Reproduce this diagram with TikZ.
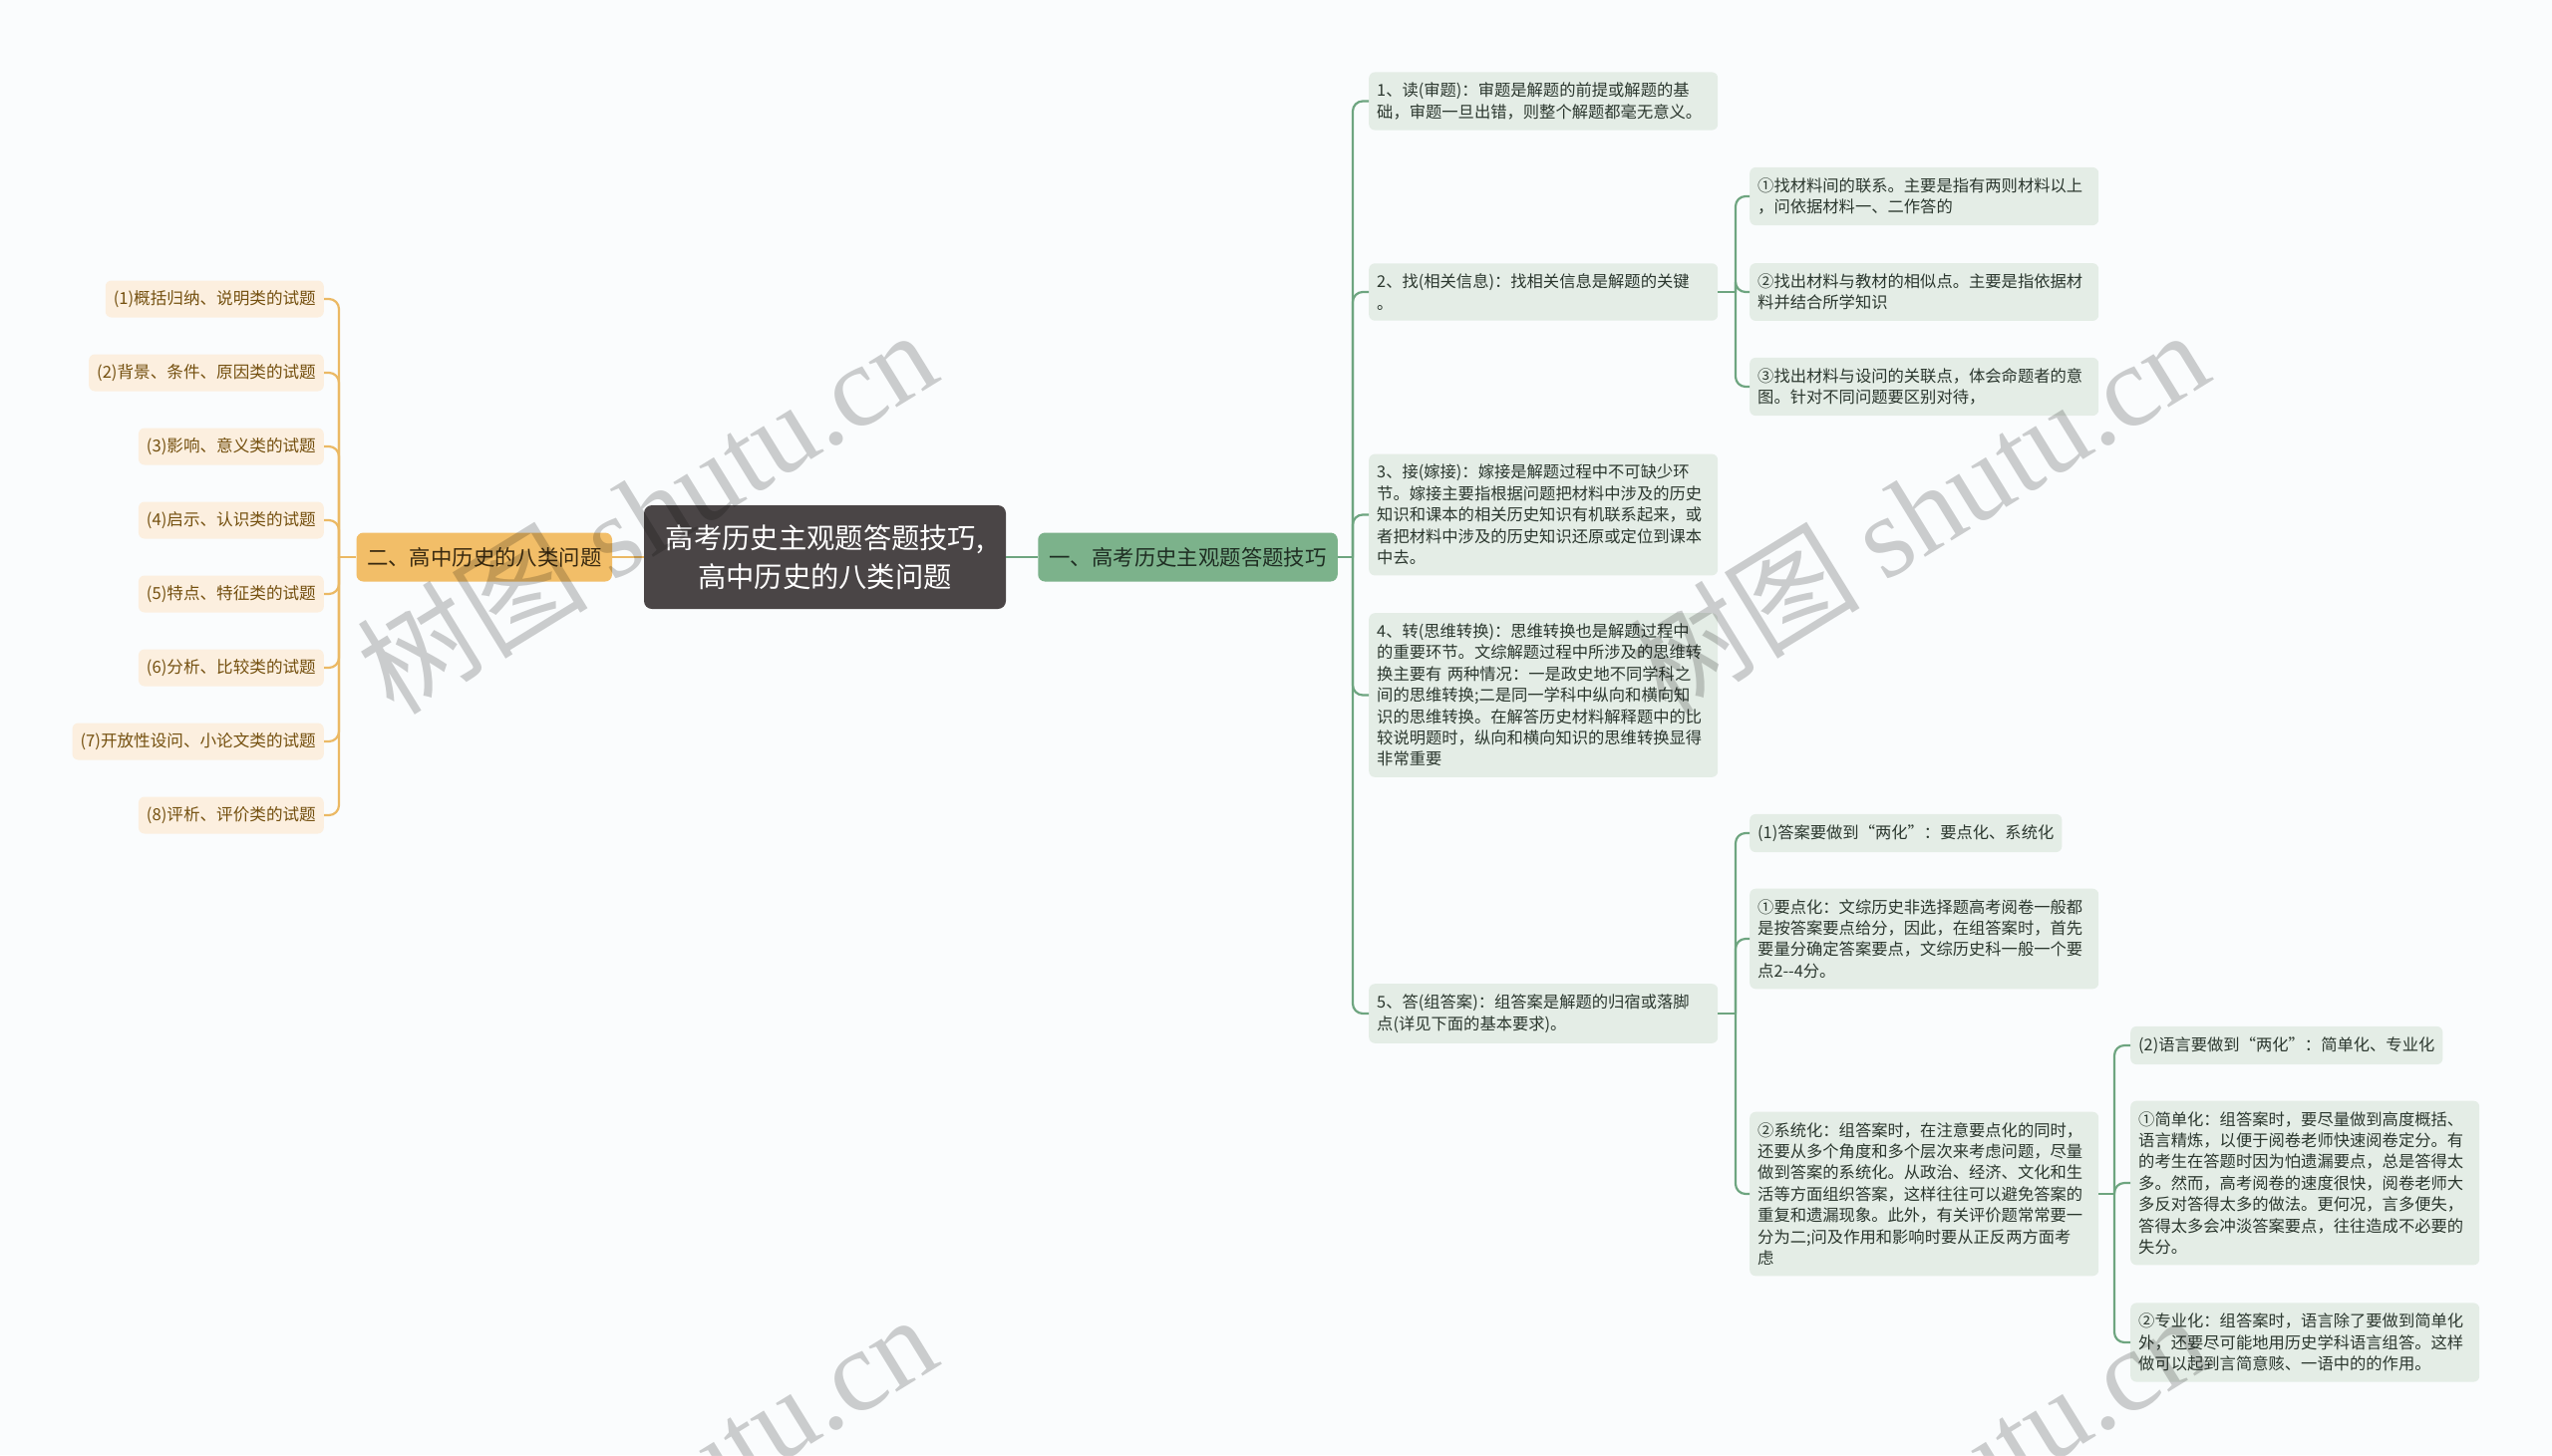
\documentclass[tikz,border=0pt]{standalone}
\usepackage{fontspec}
\setmainfont{Noto Sans CJK SC}
\newfontfamily\wmserif{Liberation Serif}
\definecolor{bgcol}{HTML}{FAFCFD}
\definecolor{rfill}{HTML}{E4EDE6}
\definecolor{rtext}{HTML}{2B372E}
\definecolor{gline}{HTML}{6EA580}
\definecolor{gfill}{HTML}{7CB28B}
\definecolor{gtext}{HTML}{1F2E23}
\definecolor{ofill}{HTML}{F2BE68}
\definecolor{otext}{HTML}{3A2A10}
\definecolor{oline}{HTML}{EBB964}
\definecolor{lfill}{HTML}{FCEFDF}
\definecolor{ltext}{HTML}{74500F}
\definecolor{cfill}{HTML}{4A4546}
\tikzset{
  rbox/.style={fill=rfill, text=rtext, rounded corners=6pt, inner xsep=8pt, inner ysep=10.6pt,
    font=\fontsize{16.3}{21.4}\selectfont, anchor=west, align=left},
  rwide/.style={rbox, text width=334pt},
  lbox/.style={fill=lfill, text=ltext, rounded corners=6pt, inner xsep=8pt, inner ysep=0pt,
    minimum height=37pt, font=\fontsize{16.6}{20}\selectfont, anchor=east},
  gconn/.style={draw=gline, line width=2.2pt, rounded corners=10pt},
  oconn/.style={draw=oline, line width=2.2pt, rounded corners=10pt},
  wmark/.style={rotate=31.6, text=black, opacity=0.19, font=\fontsize{116}{116}\selectfont},
}
\begin{document}
\begin{tikzpicture}[x=1pt,y=-1pt]
\useasboundingbox (0,0) rectangle (2560,1460);
\fill[bgcol] (0,0) rectangle (2560,1460);

% main nodes
\node[fill=cfill, text=white, rounded corners=8pt, minimum width=363pt, minimum height=104pt,
  align=center, font=\fontsize{28.3}{39}\selectfont] (root) at (827.5,559) {高考历史主观题答题技巧,\\高中历史的八类问题};
\node[fill=ofill, text=otext, rounded corners=7pt, minimum width=256.5pt, minimum height=49pt,
  font=\fontsize{21.4}{25}\selectfont] (L) at (485.75,559) {二、高中历史的八类问题};
\node[fill=gfill, text=gtext, rounded corners=7pt, minimum width=300.5pt, minimum height=49pt,
  font=\fontsize{21.4}{25}\selectfont] (R) at (1191.5,559) {一、高考历史主观题答题技巧};

\draw[oconn] (root.west) -- (L.east);
\draw[gconn] (root.east) -- (R.west);

% left branch
\node[lbox] (l1) at (325,300) {(1)概括归纳、说明类的试题};
\node[lbox] (l2) at (325,374) {(2)背景、条件、原因类的试题};
\node[lbox] (l3) at (325,448) {(3)影响、意义类的试题};
\node[lbox] (l4) at (325,522) {(4)启示、认识类的试题};
\node[lbox] (l5) at (325,596) {(5)特点、特征类的试题};
\node[lbox] (l6) at (325,670) {(6)分析、比较类的试题};
\node[lbox] (l7) at (325,744) {(7)开放性设问、小论文类的试题};
\node[lbox] (l8) at (325,818) {(8)评析、评价类的试题};
\coordinate (Ls) at (340,559);
\draw[oconn] (L.west) -- (Ls);
\foreach \n in {l1,l2,l3,l4,l5,l6,l7,l8} \draw[oconn] (Ls) |- (\n.east);

% right branch level 2
\node[rwide] (r1) at (1373,101.5) {1、读(审题)：审题是解题的前提或解题的基\\础，审题一旦出错，则整个解题都毫无意义。};
\node[rwide] (r2) at (1373,293) {2、找(相关信息)：找相关信息是解题的关键\\。};
\node[rwide] (r3) at (1373,516.5) {3、接(嫁接)：嫁接是解题过程中不可缺少环\\节。嫁接主要指根据问题把材料中涉及的历史\\知识和课本的相关历史知识有机联系起来，或\\者把材料中涉及的历史知识还原或定位到课本\\中去。};
\node[rwide] (r4) at (1373,697.5) {4、转(思维转换)：思维转换也是解题过程中\\的重要环节。文综解题过程中所涉及的思维转\\换主要有 两种情况：一是政史地不同学科之\\间的思维转换;二是同一学科中纵向和横向知\\识的思维转换。在解答历史材料解释题中的比\\较说明题时，纵向和横向知识的思维转换显得\\非常重要};
\node[rwide] (r5) at (1373,1017) {5、答(组答案)：组答案是解题的归宿或落脚\\点(详见下面的基本要求)。};
\coordinate (Rs) at (1357,559);
\draw[gconn] (R.east) -- (Rs);
\foreach \n in {r1,r2,r3,r4,r5} \draw[gconn] (Rs) |- (\n.west);

% level 3 under r2
\node[rwide] (r21) at (1755,197) {①找材料间的联系。主要是指有两则材料以上\\，问依据材料一、二作答的};
\node[rwide] (r22) at (1755,293) {②找出材料与教材的相似点。主要是指依据材\\料并结合所学知识};
\node[rwide] (r23) at (1755,388) {③找出材料与设问的关联点，体会命题者的意\\图。针对不同问题要区别对待，};
\coordinate (r2s) at (1741,293);
\draw[gconn] (r2.east) -- (r2s);
\foreach \n in {r21,r22,r23} \draw[gconn] (r2s) |- (\n.west);

% level 3 under r5
\node[rbox] (r51) at (1755,836) {(1)答案要做到“两化”：要点化、系统化};
\node[rwide] (r52) at (1755,942) {①要点化：文综历史非选择题高考阅卷一般都\\是按答案要点给分，因此，在组答案时，首先\\要量分确定答案要点，文综历史科一般一个要\\点2{-}{-}4分。};
\node[rwide] (r53) at (1755,1198) {②系统化：组答案时，在注意要点化的同时，\\还要从多个角度和多个层次来考虑问题，尽量\\做到答案的系统化。从政治、经济、文化和生\\活等方面组织答案，这样往往可以避免答案的\\重复和遗漏现象。此外，有关评价题常常要一\\分为二;问及作用和影响时要从正反两方面考\\虑};
\coordinate (r5s) at (1741,1017);
\draw[gconn] (r5.east) -- (r5s);
\foreach \n in {r51,r52,r53} \draw[gconn] (r5s) |- (\n.west);

% level 4 under r53
\node[rbox] (r531) at (2137,1049) {(2)语言要做到“两化”：简单化、专业化};
\node[rwide] (r532) at (2137,1187) {①简单化：组答案时，要尽量做到高度概括、\\语言精炼，以便于阅卷老师快速阅卷定分。有\\的考生在答题时因为怕遗漏要点，总是答得太\\多。然而，高考阅卷的速度很快，阅卷老师大\\多反对答得太多的做法。更何况，言多便失，\\答得太多会冲淡答案要点，往往造成不必要的\\失分。};
\node[rwide] (r533) at (2137,1347) {②专业化：组答案时，语言除了要做到简单化\\外，还要尽可能地用历史学科语言组答。这样\\做可以起到言简意赅、一语中的的作用。};
\coordinate (r53s) at (2121,1198);
\draw[gconn] (r53.east) -- (r53s);
\foreach \n in {r531,r532,r533} \draw[gconn] (r53s) |- (\n.west);

% watermarks
\node[wmark] (wm1) at (648,512) {树图 {\wmserif shutu.cn}};
\node[wmark] (wm2) at (1924,512) {树图 {\wmserif shutu.cn}};
\node[wmark] (wm3) at (648,1500) {树图 {\wmserif shutu.cn}};
\node[wmark] (wm4) at (1924,1500) {树图 {\wmserif shutu.cn}};
\end{tikzpicture}
\end{document}
